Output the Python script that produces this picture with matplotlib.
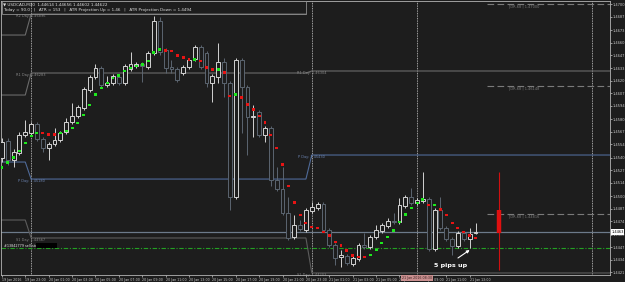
import matplotlib
matplotlib.use('Agg')
import matplotlib.pyplot as plt
import numpy as np
from matplotlib.patches import Rectangle
from matplotlib.transforms import blended_transform_factory

BG = '#1d1d1d'

# ---------------- data (USDCAD M30) ----------------
opens = [1.45399, 1.45576, 1.45378, 1.45451, 1.45638, 1.45659, 1.45752, 1.45596, 1.45503, 1.45544,
         1.45586, 1.45669, 1.45773, 1.45836, 1.45919, 1.46106, 1.46241, 1.46335, 1.46158, 1.46179,
         1.46241, 1.46179, 1.46324, 1.46356, 1.46376, 1.46345, 1.46491, 1.46824, 1.46522, 1.46345,
         1.46324, 1.46283, 1.46345, 1.46428, 1.46553, 1.46491, 1.46179, 1.46241, 1.46397, 1.46179,
         1.44993, 1.46418, 1.46137, 1.45825, 1.45877, 1.45638, 1.45711, 1.45170, 1.45076, 1.44827,
         1.44577, 1.44702, 1.44650, 1.44848, 1.44879, 1.44920, 1.44650, 1.44494, 1.44369, 1.44380,
         1.44296, 1.44348, 1.44494, 1.44473, 1.44577, 1.44640, 1.44692, 1.44744, 1.44733, 1.44900,
         1.44993, 1.44931, 1.44952, 1.44972, 1.44452, 1.44858, 1.44671, 1.44556, 1.44484, 1.44619,
         1.44556, 1.44619]
highs = [1.45607, 1.45607, 1.45492, 1.45669, 1.45794, 1.45773, 1.45773, 1.45617, 1.45565, 1.45711,
         1.45680, 1.45815, 1.45971, 1.45950, 1.46137, 1.46262, 1.46376, 1.46356, 1.46252, 1.46272,
         1.46262, 1.46376, 1.46501, 1.46397, 1.46397, 1.46512, 1.46876, 1.46865, 1.46543, 1.46418,
         1.46345, 1.46366, 1.46439, 1.46574, 1.46574, 1.46512, 1.46272, 1.46595, 1.46439, 1.46200,
         1.46439, 1.46439, 1.46158, 1.45950, 1.45898, 1.45732, 1.45732, 1.45305, 1.45305, 1.44993,
         1.44806, 1.44754, 1.44879, 1.44941, 1.44941, 1.44941, 1.44671, 1.44515, 1.44442, 1.44400,
         1.44380, 1.44515, 1.44619, 1.44598, 1.44702, 1.44723, 1.44775, 1.44827, 1.44983, 1.45014,
         1.45087, 1.44983, 1.45253, 1.44993, 1.44879, 1.44993, 1.44692, 1.44577, 1.44640, 1.44640,
         1.44671, 1.44723]
lows = [1.45357, 1.45326, 1.45305, 1.45430, 1.45617, 1.45638, 1.45576, 1.45461, 1.45378, 1.45524,
        1.45565, 1.45648, 1.45752, 1.45815, 1.45898, 1.46085, 1.46220, 1.46137, 1.46137, 1.46158,
        1.46158, 1.46158, 1.46304, 1.46335, 1.46189, 1.46324, 1.46470, 1.46470, 1.46283, 1.46283,
        1.46189, 1.46262, 1.46324, 1.46408, 1.46324, 1.46137, 1.45981, 1.46179, 1.46033, 1.44858,
        1.44972, 1.45659, 1.45430, 1.45617, 1.45617, 1.45565, 1.45108, 1.45056, 1.44806, 1.44546,
        1.44556, 1.44640, 1.44629, 1.44827, 1.44858, 1.44629, 1.44473, 1.44286, 1.44265, 1.44286,
        1.44276, 1.44328, 1.44452, 1.44452, 1.44556, 1.44619, 1.44671, 1.44712, 1.44712, 1.44879,
        1.44910, 1.44910, 1.44931, 1.44432, 1.44432, 1.44650, 1.44536, 1.44390, 1.44463, 1.44536,
        1.44463, 1.44608]
closes = [1.45565, 1.45378, 1.45461, 1.45638, 1.45669, 1.45752, 1.45596, 1.45503, 1.45544, 1.45586,
          1.45659, 1.45773, 1.45836, 1.45929, 1.46116, 1.46241, 1.46335, 1.46158, 1.46179, 1.46252,
          1.46179, 1.46356, 1.46376, 1.46376, 1.46356, 1.46491, 1.46824, 1.46501, 1.46335, 1.46324,
          1.46210, 1.46345, 1.46418, 1.46553, 1.46345, 1.46179, 1.46252, 1.46397, 1.46179, 1.44993,
          1.46418, 1.46137, 1.45825, 1.45836, 1.45638, 1.45711, 1.45170, 1.45076, 1.44827, 1.44567,
          1.44702, 1.44660, 1.44858, 1.44889, 1.44920, 1.44650, 1.44494, 1.44359, 1.44390, 1.44307,
          1.44359, 1.44494, 1.44473, 1.44577, 1.44650, 1.44702, 1.44744, 1.44733, 1.44910, 1.44993,
          1.44931, 1.44962, 1.44972, 1.44452, 1.44858, 1.44671, 1.44556, 1.44484, 1.44619, 1.44556,
          1.44608, 1.44629]

trend_dots = [1.45305, 1.45357, 1.45409, 1.45472, 1.45555, 1.45628, 1.45659, 1.45659, 1.45648, 1.45648,
              1.45659, 1.45680, 1.45711, 1.45763, 1.45846, 1.45950, 1.46064, 1.46127, 1.46179, 1.46231,
              1.46262, 1.46304, 1.46335, 1.46356, 1.46376, 1.46408, 1.46501, 1.46532, 1.46522, 1.46512,
              1.46470, 1.46449, 1.46428, 1.46428, 1.46408, 1.46345, 1.46324, 1.46324, 1.46293, 1.46044,
              1.46064, 1.46033, 1.45960, 1.45908, 1.45836, 1.45773, 1.45638, 1.45503, 1.45336, 1.45108,
              1.44941, 1.44806, 1.44723, 1.44681, 1.44671, 1.44629, 1.44588, 1.44525, 1.44484, 1.44432,
              1.44380, 1.44369, 1.44369, 1.44390, 1.44442, 1.44515, 1.44577, 1.44640, 1.44733, 1.44816,
              1.44879, 1.44931, 1.44972, 1.44910, 1.44910, 1.44868, 1.44806, 1.44723, 1.44671, 1.44629,
              1.44588, 1.44567]
trend_up = ([1] * 7 + [0] * 3 + [1] * 18 + [0] * 5 + [1] + [0] * 3 + [1] + [0] * 2 + [1]
            + [0] * 22 + [1] * 10 + [0] + [1] + [0] * 7)

day_start = [0, 5, 53]
r2_levels = [1.46678, 1.46896]
r1_levels = [1.46054, 1.46283, 1.46304]
p_levels = [1.45357, 1.45180, 1.45430]
s1_levels = [1.44754, 1.44567, 1.44203]

atr_levels = [1.47000, 1.46148, 1.44816]
sell_stop = 1.44463
future_bar_idx = 85
future_bar_range = [1.44234, 1.45253]
future_bar_body = [1.44619, 1.44858]

ytick_vals = [1.4700, 1.4687, 1.4673, 1.4660, 1.4647, 1.4633, 1.4620, 1.4607, 1.4594, 1.4580, 1.4567,
              1.4554, 1.4540, 1.4527, 1.4514, 1.4500, 1.4487, 1.4474, 1.4460, 1.4447, 1.4434, 1.4421]
xtick_idx = [0, 4, 8, 12, 16, 20, 24, 28, 32, 36, 40, 44, 48, 52, 56, 60, 64, 68, 72, 76, 80]
xtick_labels = ['19 Jan 2016', '19 Jan 23:00', '20 Jan 01:00', '20 Jan 03:00', '20 Jan 05:00',
                '20 Jan 07:00', '20 Jan 09:00', '20 Jan 11:00', '20 Jan 13:00', '20 Jan 15:00',
                '20 Jan 17:00', '20 Jan 19:00', '20 Jan 21:00', '20 Jan 23:00', '21 Jan 01:00',
                '21 Jan 03:00', '21 Jan 05:00', '21 Jan 07:00', '21 Jan 09:00', '21 Jan 11:00',
                '21 Jan 13:00']
separators = [5, 53, 101]
vline_marker = 71

# ---------------- figure ----------------
fig = plt.figure(figsize=(6.25, 2.82), dpi=100, facecolor=BG)
ax = fig.add_axes([1 / 625, 7 / 282, 609 / 625, 274 / 282], facecolor=BG)
XMAX = 104.0
ax.set_xlim(-0.15, XMAX)
ax.set_ylim(1.44182, 1.47032)

o = np.array(opens); h = np.array(highs); l = np.array(lows); c = np.array(closes)
n = len(o)
idx = np.arange(n)
bull = c >= o
ccol = np.where(bull, '#d2d2d2', '#5b6570')

# separators (dotted)
for s in separators:
    ax.axvline(s, color='#cfcfcf', lw=0.6, ls=(0, (1, 1)), zorder=1)
ax.axvline(vline_marker, color='#cfcfcf', lw=0.6, ls=(0, (1, 1)), zorder=1)


def level_line(levels, color, name, lw=0.8, label_color=None):
    xs, ys = [], []
    for k, v in enumerate(levels):
        start = day_start[k]
        if k + 1 < len(day_start):
            end = day_start[k + 1] - 1
        else:
            end = XMAX
        xs += [start, end]
        ys += [v, v]
    xs[0] = -0.15
    ax.plot(xs, ys, color=color, lw=lw, zorder=1.5, solid_joinstyle='miter')
    lc = label_color or color
    for k, v in enumerate(levels):
        if k == 0:
            continue
        ax.text(day_start[k], v - 0.00003, f"{name} Day: {v:.5f}", fontsize=2.5,
                color=lc, ha='center', va='top', zorder=1.6)


level_line(r2_levels, '#6a6a6a', 'R2', label_color='#8a8a8a')
level_line(r1_levels, '#6a6a6a', 'R1', label_color='#8a8a8a')
level_line(p_levels, '#4f6a98', 'P', label_color='#6d86b4')
level_line(s1_levels, '#5c5c5c', 'S1', label_color='#808080')

# bid line
ax.axhline(closes[-1], color='#6c7a8a', lw=0.9, zorder=1.4)
# sell stop (dash-dot green)
ax.axhline(sell_stop, color='#23a023', lw=0.8, ls=(0, (4, 1.5, 1, 1.5)), zorder=1.4)
ax.text(0.35, sell_stop + 0.00003, "#13842779 sell stop", fontsize=2.4, color='#e8e8e8',
        ha='left', va='bottom', zorder=5)
ax.add_patch(Rectangle((5.8, sell_stop + 0.00001), 3.6, 0.0005, facecolor='black',
                       edgecolor='none', zorder=5))

# ATR projection dashed lines
for v in atr_levels:
    ax.plot([83, XMAX], [v, v], color='#7a7a7a', lw=0.8, ls=(0, (6, 3)), zorder=1.4)
    ax.text(86.7, v - 0.00004, f"[DR-68 | {v:.5f}", fontsize=2.5, color='#7d7d7d',
            ha='left', va='top', zorder=1.6)

# future red bar
ax.vlines(future_bar_idx, future_bar_range[0], future_bar_range[1], color='#d01010', lw=0.8, zorder=2)
ax.vlines(future_bar_idx, future_bar_body[0], future_bar_body[1], color='#e01010', lw=3.2, zorder=2)

# candles
ax.vlines(idx, l, h, colors=ccol, lw=0.7, zorder=2)
ax.bar(idx, np.maximum(np.abs(c - o), 0.00002), bottom=np.minimum(o, c), width=0.66,
       facecolor=BG, edgecolor=ccol, linewidth=0.7, zorder=3)

# trend dots
dcol = ['#1ee81e' if u else '#e81414' for u in trend_up]
ax.scatter(idx, trend_dots, c=dcol, marker='s', s=4.5, linewidths=0, zorder=4)

# annotation
ax.text(76.8, 1.44286, "5 pips up", fontsize=4.6, fontweight='bold', color='white',
        ha='center', va='center', zorder=6)
ax.annotate('', xy=(80.0, 1.44442), xytext=(78.0, 1.44359),
            arrowprops=dict(arrowstyle='-|>', color='white', lw=0.8, mutation_scale=4,
                            shrinkA=0, shrinkB=0), zorder=6)

# axes styling
for sp in ax.spines.values():
    sp.set_color('#b4b4b4')
    sp.set_linewidth(0.6)
ax.yaxis.tick_right()
ax.set_yticks(ytick_vals)
ax.set_yticklabels([f"{v:.4f}" for v in ytick_vals])
ax.tick_params(axis='y', colors='#c8c8c8', labelsize=2.6, length=1.2, width=0.5, pad=0.5)
ax.set_xticks(xtick_idx)
ax.set_xticklabels(xtick_labels, ha='left')
ax.tick_params(axis='x', colors='#c8c8c8', labelsize=2.3, length=1.5, width=0.5, pad=0.8)

# bid price box on axis
tr = blended_transform_factory(ax.transAxes, ax.transData)
ax.text(1.002, closes[-1], f"{closes[-1]:.4f}", transform=tr, fontsize=2.6, color='black',
        ha='left', va='center', zorder=7, clip_on=False,
        bbox=dict(boxstyle='square,pad=0.15', facecolor='white', edgecolor='none'))

# highlighted time of marker line
ax.text(vline_marker, -0.004, "21 Jan 2016 08:30",
        transform=blended_transform_factory(ax.transData, ax.transAxes),
        fontsize=2.3, color='#3a2020', ha='center', va='top', clip_on=False, zorder=7,
        bbox=dict(boxstyle='square,pad=0.25', facecolor='#c98f8f', edgecolor='none'))

# info header box
fig.add_artist(Rectangle((2 / 625, 1 - 14 / 282), 304 / 625, 13 / 282, transform=fig.transFigure,
                         fill=False, edgecolor='#8e8e8e', lw=0.6, zorder=10))
fig.text(3 / 625, 1 - 2.2 / 282, "\u25bc USDCAD,M30  1.44614 1.44656 1.44602 1.44622",
         fontsize=3.0, color='#dcdcdc', va='top', ha='left')
fig.text(3 / 625, 1 - 7.5 / 282,
         "Today = 90.0   |   ATR = 153   |   ATR Projection Up = 1.46   |   ATR Projection Down = 1.4494",
         fontsize=3.0, color='#dcdcdc', va='top', ha='left')

fig.savefig('out.png', dpi=100, facecolor=BG)
